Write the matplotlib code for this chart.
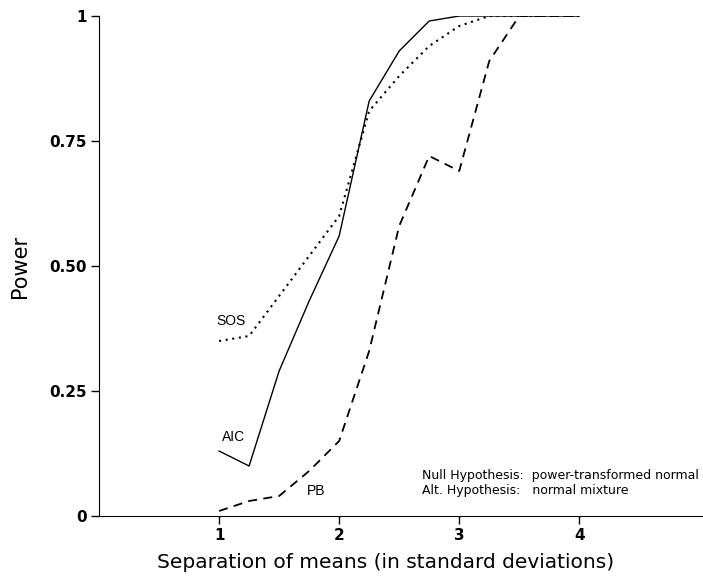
import matplotlib.pyplot as plt

# separation of means (sd units)
sep = [1, 1.25, 1.5, 1.75, 2, 2.25, 2.5, 2.75, 3, 3.25, 3.5, 4]

aic = [0.13, 0.10, 0.29, 0.43, 0.56, 0.83, 0.93, 0.99, 1.0, 1.0, 1.0, 1.0]
sos = [0.35, 0.36, 0.44, 0.52, 0.60, 0.81, 0.88, 0.94, 0.98, 1.0, 1.0, 1.0]
pb = [0.01, 0.03, 0.04, 0.09, 0.15, 0.33, 0.58, 0.72, 0.69, 0.91, 1.0, 1.0]

xticks = [1, 2, 3, 4]
yticks = [0, 0.25, 0.5, 0.75, 1]
yticklabels = ['0', '0.25', '0.50', '0.75', '1']

fig = plt.figure(figsize=(7.03, 5.8), dpi=100)
ax = fig.add_axes([99 / 703, 64 / 580, 604 / 703, 500 / 580])

ax.plot(sep, aic, color='black', lw=1.0)
ax.plot(sep, sos, color='black', lw=1.5, linestyle=(0, (1, 2.2)))
ax.plot(sep, pb, color='black', lw=1.3, linestyle=(0, (5, 3.5)))

ax.text(0.98, 0.39, 'SOS', fontsize=10, family='Liberation Sans', ha='left', va='center')
ax.text(1.02, 0.158, 'AIC', fontsize=10, family='Liberation Sans', ha='left', va='center')
ax.text(1.73, 0.05, 'PB', fontsize=10, family='Liberation Sans', ha='left', va='center')
ax.text(2.69, 0.074, 'Null Hypothesis:  power-transformed normal', fontsize=9,
        family='DejaVu Sans', ha='left', va='baseline')
ax.text(2.69, 0.044, 'Alt. Hypothesis:   normal mixture', fontsize=9,
        family='DejaVu Sans', ha='left', va='baseline')

ax.set_xlim(0, 5.03)
ax.set_ylim(0, 1)
ax.spines['top'].set_visible(False)
ax.spines['right'].set_visible(False)
ax.set_xticks(xticks)
ax.set_xticklabels([str(t) for t in xticks])
ax.set_yticks(yticks)
ax.set_yticklabels(yticklabels)
ax.tick_params(direction='out', length=6, width=1, labelsize=11, pad=3)
for lab in ax.get_xticklabels() + ax.get_yticklabels():
    lab.set_fontweight('bold')

ax.set_xlabel('Separation of means (in standard deviations)', fontsize=14.5)
ax.xaxis.set_label_coords(0.474, -0.073)
ax.set_ylabel('Power', fontsize=15)
ax.yaxis.set_label_coords(-0.115, 0.5)

fig.savefig('out.png', dpi=100)
